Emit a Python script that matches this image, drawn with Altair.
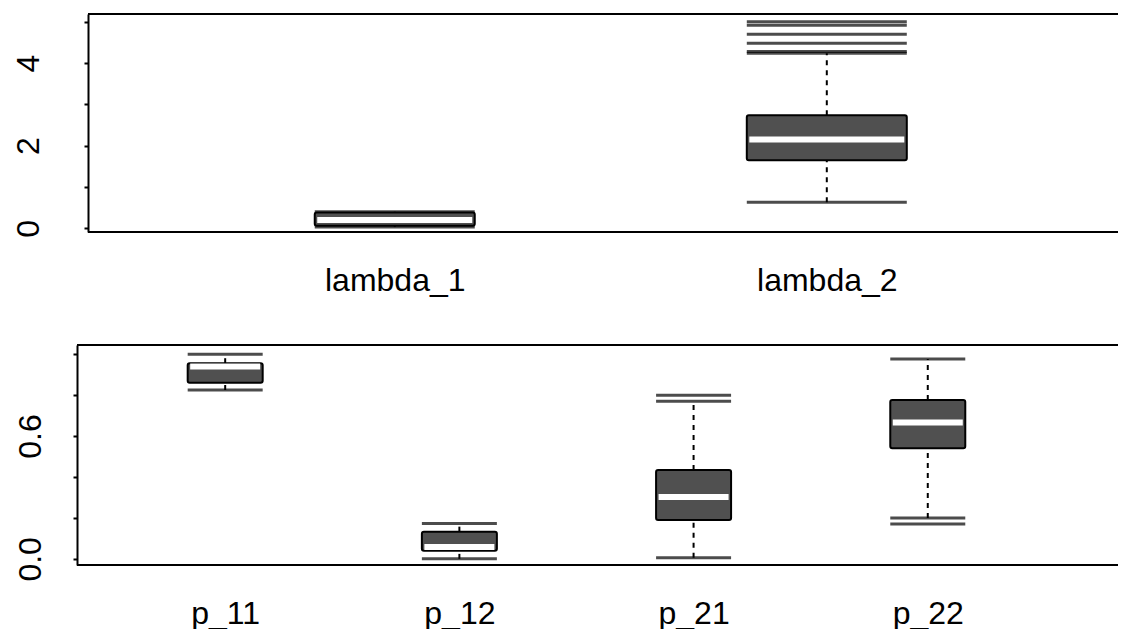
import altair as alt
import pandas as pd

# ---- data ----
top_cats = ["lambda_1", "lambda_2"]
top_low = [0.03, 0.63]
top_q1 = [0.06, 1.65]
top_med = [0.20, 2.15]
top_q3 = [0.38, 2.74]
top_high = [0.40, 4.24]
top_out_cat = ["lambda_2", "lambda_2", "lambda_2", "lambda_2", "lambda_2"]
top_out_val = [4.28, 4.48, 4.70, 4.92, 5.00]

bot_cats = ["p_11", "p_12", "p_21", "p_22"]
bot_low = [0.825, 0.0, 0.005, 0.20]
bot_q1 = [0.86, 0.04, 0.19, 0.541]
bot_med = [0.94, 0.058, 0.302, 0.666]
bot_q3 = [0.956, 0.133, 0.434, 0.776]
bot_high = [1.0, 0.173, 0.77, 0.976]
bot_out_cat = ["p_21", "p_22"]
bot_out_val = [0.80, 0.17]

FONT = "Liberation Sans"
BOXFILL = "#505050"


def panel(cats, low, q1, med, q3, high, out_cat, out_val,
          ydom, yvals, ylabexpr, yfmt, W, H, boxw, xpad, xalign,
          yoffset, ylabpad):
    stats = pd.DataFrame({"cat": cats, "low": low, "q1": q1, "med": med,
                          "q3": q3, "high": high})
    outs = pd.DataFrame({"cat": out_cat, "val": out_val})
    one = pd.DataFrame({"k": [0]})

    xscale = alt.Scale(domain=cats, type="point", padding=xpad, align=xalign)
    yscale = alt.Scale(domain=ydom, nice=False, zero=False)
    xaxis = alt.Axis(domain=False, ticks=False, tickSize=0, labelAngle=0,
                     labelFont=FONT, labelFontSize=32, labelColor="black",
                     labelPadding=58, labelBaseline="alphabetic",
                     labelAlign="center", grid=False, labelOverlap=False)
    yaxis = alt.Axis(values=yvals, labelExpr=ylabexpr, format=yfmt,
                     domain=True, domainColor="black", domainWidth=2,
                     ticks=True, tickSize=4, tickWidth=2, tickColor="black",
                     labelAngle=270, labelAlign="center",
                     labelBaseline="middle", labelPadding=ylabpad,
                     labelFont=FONT, labelFontSize=32, labelColor="black",
                     grid=False, offset=yoffset, labelOverlap=False,
                     labelFlush=False)

    X = alt.X("cat:N", scale=xscale, axis=xaxis, title=None)

    def Y(f):
        return alt.Y(f, scale=yscale, axis=yaxis, title=None)

    base = alt.Chart(stats)
    wh_up = base.mark_rule(color="black", strokeWidth=2,
                           strokeDash=[5, 5]).encode(
        x=X, y=Y("q3:Q"), y2="high:Q")
    wh_lo = base.mark_rule(color="black", strokeWidth=2,
                           strokeDash=[5, 5]).encode(
        x=X, y=Y("low:Q"), y2="q1:Q")
    cap_hi = base.mark_tick(color="black", size=boxw, thickness=3,
                            orient="horizontal").encode(x=X, y=Y("high:Q"))
    cap_lo = base.mark_tick(color="black", size=boxw, thickness=3,
                            orient="horizontal").encode(x=X, y=Y("low:Q"))
    outl = alt.Chart(outs).mark_tick(color="black", size=boxw, thickness=3,
                                     orient="horizontal").encode(
        x=X, y=Y("val:Q"))
    box = base.mark_bar(size=boxw, fill=BOXFILL, stroke="black",
                        strokeWidth=2, cornerRadius=2).encode(
        x=X, y=Y("q1:Q"), y2="q3:Q")
    medl = base.mark_tick(color="white", size=boxw - 5, thickness=6,
                          orient="horizontal", opacity=1).encode(
        x=X, y=Y("med:Q"))
    ftop = alt.Chart(one).mark_rule(color="black", strokeWidth=2).encode(
        x=alt.value(-yoffset), x2=alt.value(W), y=alt.value(0))
    fbot = alt.Chart(one).mark_rule(color="black", strokeWidth=2).encode(
        x=alt.value(-yoffset), x2=alt.value(W), y=alt.value(H))

    return alt.layer(wh_up, wh_lo, cap_hi, cap_lo, outl, box, medl,
                     ftop, fbot).properties(width=W, height=H)


W = 1030
top = panel(top_cats, top_low, top_q1, top_med, top_q3, top_high,
            top_out_cat, top_out_val,
            [-0.09, 5.19], [0, 1, 2, 3, 4, 5],
            "datum.value % 2 == 0 ? datum.label : ''", "d",
            W, 218, 160, 0.692, 0.513, 0, 55.5)
bottom = panel(bot_cats, bot_low, bot_q1, bot_med, bot_q3, bot_high,
               bot_out_cat, bot_out_val,
               [-0.03, 1.045], [0, 0.2, 0.4, 0.6, 0.8, 1.0],
               "(datum.value < 0.01 || abs(datum.value - 0.6) < 0.01) ? datum.label : ''",
               ".1f", W, 220, 75, 0.699, 0.419, 11, 42.5)

chart = alt.vconcat(top, bottom, spacing=48).properties(
    padding={"left": 4, "top": 5, "right": 0, "bottom": 0},
    background="white",
).configure_view(stroke=None)

chart.save("out.html", embed_options={"renderer": "svg", "actions": False})
